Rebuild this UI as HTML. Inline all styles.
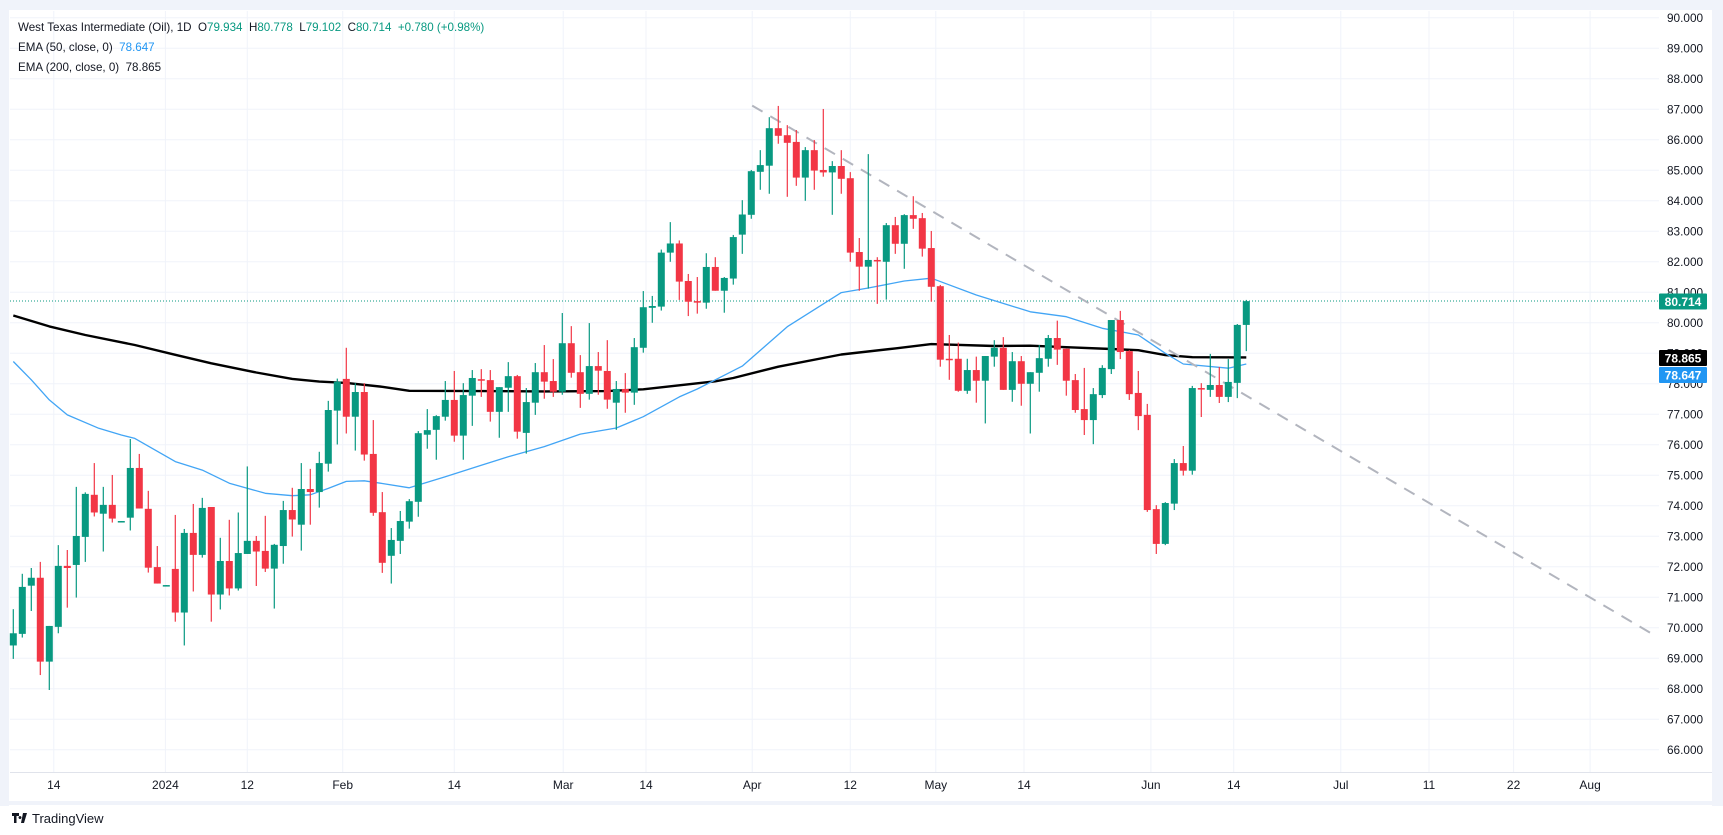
<!DOCTYPE html>
<html><head><meta charset="utf-8"><title>WTI Oil 1D</title>
<style>
html,body{margin:0;padding:0;background:#fff;width:1723px;height:835px;overflow:hidden;font-family:"Liberation Sans",sans-serif}
svg text{font-family:"Liberation Sans",sans-serif;white-space:pre}
</style></head>
<body>
<svg id="chart" width="1723" height="835" viewBox="0 0 1723 835" xmlns="http://www.w3.org/2000/svg">
  <rect x="0" y="0" width="1723" height="835" fill="#ffffff"/>
  <rect x="0" y="0" width="1723" height="10" fill="#f0f3fa"/>
  <rect x="0" y="0" width="9" height="806" fill="#f0f3fa"/>
  <rect x="1712" y="0" width="11" height="806" fill="#f0f3fa"/>
  <rect x="0" y="801" width="1723" height="4" fill="#f0f3fa"/>
  <g id="grid"></g>
  <g id="yaxis"></g>
  <g id="xaxis"></g>
  <g id="ema200"></g>
  <g id="ema50"></g>
  <g id="trend"></g>
  <g id="candles"></g>
  <g id="badges"></g>
  <g font-size="11.6">
    <text x="18" y="31" fill="#131722">West Texas Intermediate (Oil), 1D  <tspan fill="#131722">O</tspan><tspan fill="#089981">79.934</tspan>  <tspan fill="#131722">H</tspan><tspan fill="#089981">80.778</tspan>  <tspan fill="#131722">L</tspan><tspan fill="#089981">79.102</tspan>  <tspan fill="#131722">C</tspan><tspan fill="#089981">80.714</tspan>  <tspan fill="#089981">+0.780 (+0.98%)</tspan></text>
    <text x="18" y="51" fill="#131722">EMA (50, close, 0)  <tspan fill="#2196f3">78.647</tspan></text>
    <text x="18" y="71" fill="#131722">EMA (200, close, 0)  78.865</text>
  </g>
  <g>
    <path d="M12 813 h7 v3 h-2.5 v7 h-2.5 v-7 h-2 z M23 813 l4 0 l-3 10 h-3 z M20 816 a1.5 1.5 0 1 0 0.01 0z" fill="#131722"/>
    <text x="32" y="823" font-size="13" fill="#131722">TradingView</text>
  </g>
</svg>
<script>
const opens=[69.42,69.80,71.38,71.64,68.89,70.03,72.03,72.06,72.98,74.36,73.74,74.03,73.48,73.61,75.24,73.90,71.99,71.38,71.93,70.50,73.11,72.39,73.96,71.09,72.19,71.29,72.42,72.85,72.52,71.94,72.68,73.86,73.38,74.55,74.45,75.38,77.12,78.16,76.92,77.73,
75.70,73.79,72.36,72.85,73.48,74.13,76.33,76.49,76.92,77.47,76.30,77.61,78.15,78.12,77.08,77.87,78.25,76.39,77.38,78.38,78.09,77.74,79.33,78.38,77.67,78.58,78.42,77.38,77.83,77.71,79.18,80.49,
80.53,82.30,82.60,81.37,80.71,80.66,
81.83,81.05,81.45,82.89,83.54,84.95,85.15,86.38,86.15,85.93,84.76,85.66,85.01,84.93,85.14,84.74,82.32,81.84,82.06,82.00,83.20,82.59,83.53,83.43,82.45,81.20,78.82,78.82,77.77,78.45,78.10,78.89,79.18,77.80,78.74,78.00,78.36,78.82,79.50,79.15,
78.12,77.17,76.81,77.63,78.48,80.09,79.07,77.70,76.98,73.89,72.75,74.07,75.40,75.15,77.86,77.80,77.96,77.57,78.03,79.93];
const highs=[70.61,71.77,71.96,72.16,70.06,72.71,72.55,74.62,74.44,75.40,74.62,75.01,73.50,76.19,75.70,74.49,72.68,71.40,73.70,73.24,74.06,74.26,73.96,72.95,73.54,73.78,75.29,73.01,73.67,72.75,74.16,74.59,75.40,75.21,75.77,77.44,78.17,79.18,78.02,78.02,
76.81,74.45,73.27,73.83,74.22,76.45,77.17,76.97,78.09,78.42,78.02,78.45,78.48,78.45,77.89,78.71,78.29,77.86,78.68,79.27,78.81,80.32,79.89,78.94,79.99,79.04,79.43,78.09,78.35,79.50,81.04,80.88,
82.40,83.30,82.70,81.60,81.50,82.28,
82.15,81.50,82.88,84.02,85.01,85.66,86.74,87.11,86.48,86.32,85.76,85.99,87.01,85.30,85.66,84.94,82.78,85.53,82.15,83.27,83.47,83.56,84.15,83.60,83.01,81.24,79.60,79.35,78.82,78.89,78.91,79.43,79.53,79.04,78.91,78.38,79.27,79.60,80.07,79.15,
78.32,78.52,77.86,78.61,80.09,80.39,79.10,78.42,77.34,74.02,74.12,75.53,75.96,77.93,78.02,78.98,78.55,78.81,79.96,80.75];
const lows=[68.98,69.68,70.55,68.45,67.96,69.82,70.66,70.99,72.16,73.65,72.50,73.45,73.48,73.19,73.91,71.81,71.45,71.38,70.20,69.42,71.19,72.30,70.20,70.60,71.06,71.22,72.42,71.37,71.83,70.63,72.10,72.99,72.53,73.38,73.94,75.12,76.01,76.37,75.81,75.48,
73.67,71.80,71.45,72.42,73.25,73.64,75.87,75.51,76.79,76.10,75.51,76.62,77.57,76.76,76.23,77.08,76.20,75.71,76.98,77.51,77.57,77.64,78.20,77.21,77.48,77.64,77.18,76.49,77.05,77.31,79.02,80.00,
80.40,82.00,80.75,80.22,80.30,80.46,
81.05,80.33,81.25,82.26,83.41,84.36,84.23,85.87,84.13,84.49,84.00,84.36,84.79,83.54,84.23,82.00,81.05,81.12,80.62,80.76,82.26,81.77,83.08,82.17,80.69,78.56,78.13,77.74,77.67,77.38,76.70,78.56,77.80,77.41,77.28,76.37,77.74,78.56,78.62,77.61,
77.05,76.32,76.02,77.53,78.32,78.81,77.47,76.48,73.80,72.42,72.71,73.86,74.99,75.02,76.91,77.57,77.37,77.40,77.53,79.07];
const closes=[69.82,71.34,71.64,68.89,70.06,72.03,71.96,73.01,74.39,73.78,74.03,73.58,73.50,75.24,73.91,71.97,71.45,71.40,70.50,73.11,72.39,73.93,71.09,72.19,71.29,72.45,72.85,72.50,71.94,72.72,73.86,73.55,74.55,74.45,75.40,77.14,78.07,76.92,77.73,75.68,
73.77,72.13,72.88,73.50,74.15,76.38,76.48,76.94,77.47,76.30,77.63,78.19,78.10,77.08,77.89,78.25,76.43,77.40,78.38,78.07,77.74,79.33,78.36,77.67,78.58,78.43,77.48,77.83,77.71,79.20,80.51,80.55,
82.30,82.60,81.35,80.69,80.66,81.83,
81.05,81.47,82.81,83.55,84.97,85.17,86.38,86.13,85.90,84.76,85.66,84.99,84.93,85.14,84.72,82.30,81.84,82.06,82.03,83.20,82.59,83.53,83.41,82.43,81.18,78.79,78.79,77.77,78.45,78.10,78.91,79.18,77.80,78.74,78.00,78.38,78.84,79.50,79.12,78.10,
77.14,76.81,77.66,78.52,80.09,79.04,77.66,76.94,73.86,72.75,74.09,75.40,75.15,77.86,77.81,77.96,77.57,78.06,79.93,80.71];

const ema200Idx=[0,4,8,13.5,18,22,27,31,34,37,41,44,52,59,66,70,74,78,80,85,92,98,102,109,113,117,122,125,128,131,137];
const ema200Val=[80.24,79.88,79.60,79.27,78.95,78.67,78.37,78.16,78.07,78.03,77.90,77.77,77.76,77.75,77.76,77.82,77.95,78.08,78.19,78.56,78.96,79.16,79.30,79.24,79.25,79.20,79.14,79.10,78.94,78.87,78.865];
const ema50Idx=[0,2,4,6,9.5,12,13.5,18,21,24,28,31,33,35,37,39,41,44,48,52,55,59,63,67,70,74,76,81,86,92,95,99,102,107,113,117,121,125,128,130,135,137];
const ema50Val=[78.73,78.13,77.47,76.98,76.54,76.32,76.21,75.45,75.17,74.74,74.41,74.33,74.36,74.57,74.80,74.82,74.73,74.59,74.95,75.33,75.61,75.94,76.35,76.55,76.92,77.57,77.83,78.58,79.87,80.99,81.14,81.37,81.46,80.91,80.36,80.20,79.82,79.60,79.00,78.65,78.51,78.647];

const trendIdx=[82.1,182.1];
const trendVal=[87.12,69.80];

const priceTicks=[90,89,88,87,86,85,84,83,82,81,80,79,78,77,76,75,74,73,72,71,70,69,68,67,66];
const timeLabels=["14","2024","12","Feb","14","Mar","14","Apr","12","May","14","Jun","14","Jul","11","22","Aug"];
const timeLabelIdx=[4.5,16.9,26,36.6,49,61.1,70.3,82.1,93,102.5,112.3,126.4,135.6,147.5,157.3,166.7,175.2];

const lastClose=80.714, ema200Last=78.865, ema50Last=78.647;

const NS="http://www.w3.org/2000/svg";
const PLOT_L=10, PLOT_R=1659, PLOT_T=11, PLOT_B=772;
function xScale(i){return 13.3+i*9;}
function yScale(p){return 301+(80.714-p)*30.5;}
function mk(tag,attrs,parent){const e=document.createElementNS(NS,tag);for(const k in attrs)e.setAttribute(k,attrs[k]);parent.appendChild(e);return e;}

const grid=document.getElementById('grid');
priceTicks.forEach(p=>{
  const l=mk('line',{x1:PLOT_L,x2:PLOT_R,y1:yScale(p),y2:yScale(p),stroke:'#f0f3fa','stroke-width':1},grid);
  
  
});
timeLabelIdx.forEach(i=>{
  const l=mk('line',{x1:xScale(i),x2:xScale(i),y1:PLOT_T,y2:PLOT_B,stroke:'#f0f3fa','stroke-width':1},grid);
  
  
});
const sepB=mk('line',{x1:PLOT_L,x2:1712,y1:PLOT_B+0.5,y2:PLOT_B+0.5,stroke:'#e0e3eb','stroke-width':1},grid);



const ya=document.getElementById('yaxis');
priceTicks.forEach(p=>{
  const t=mk('text',{x:1667,y:yScale(p)+4.2,'font-size':11.8,fill:'#131722'},ya);
  t.textContent=p.toFixed(3);
  
  
});
const xa=document.getElementById('xaxis');
timeLabels.forEach((s,k)=>{
  const t=mk('text',{x:xScale(timeLabelIdx[k]),y:789,'font-size':12,fill:'#131722','text-anchor':'middle'},xa);
  t.textContent=s;
  
  
});

function linePath(idx,vals){return idx.map((i,k)=>(k?'L':'M')+xScale(i).toFixed(1)+' '+yScale(vals[k]).toFixed(1)).join(' ');}
const e200=mk('path',{d:linePath(ema200Idx,ema200Val),fill:'none',stroke:'#000000','stroke-width':2.4,'stroke-linejoin':'round'},document.getElementById('ema200'));


const e50=mk('path',{d:linePath(ema50Idx,ema50Val),fill:'none',stroke:'#42a5f5','stroke-width':1.3,'stroke-linejoin':'round'},document.getElementById('ema50'));


const tr=mk('path',{d:linePath(trendIdx,trendVal),fill:'none',stroke:'#b2b5be','stroke-width':2,'stroke-dasharray':'12 9'},document.getElementById('trend'));



const last=mk('line',{x1:PLOT_L,x2:PLOT_R,y1:yScale(lastClose),y2:yScale(lastClose),stroke:'#089981','stroke-width':1,'stroke-dasharray':'1 2'},grid);



const cg=document.getElementById('candles');
opens.forEach((o,i)=>{
  const c=closes[i],h=highs[i],l=lows[i];
  const col=c>=o?'#089981':'#f23645';
  const x=xScale(i);
  const g=mk('g',{},cg);
  
  
  const w=mk('line',{x1:x,x2:x,y1:yScale(h),y2:yScale(l),stroke:col,'stroke-width':1.2},g);
  
  
  const top=yScale(Math.max(o,c)),bot=yScale(Math.min(o,c));
  const b=mk('rect',{x:x-3.5,y:top,width:7,height:Math.max(1.5,bot-top),fill:col},g);
  
  
});

const bg=document.getElementById('badges');
function badge(val,yc,col,name){
  const g=mk('g',{},bg);
  
  
  mk('rect',{x:1659,y:yc-8,width:48,height:16,fill:col,rx:1},g);
  const t=mk('text',{x:1683,y:yc+4.3,'font-size':12,'font-weight':'bold',fill:'#ffffff','text-anchor':'middle'},g);
  t.textContent=val.toFixed(3);
}
badge(lastClose,301.5,'#089981','last-price-badge');
badge(ema200Last,358,'#000000','ema-200-badge');
badge(ema50Last,375,'#2196f3','ema-50-badge');
</script>
</body></html>
